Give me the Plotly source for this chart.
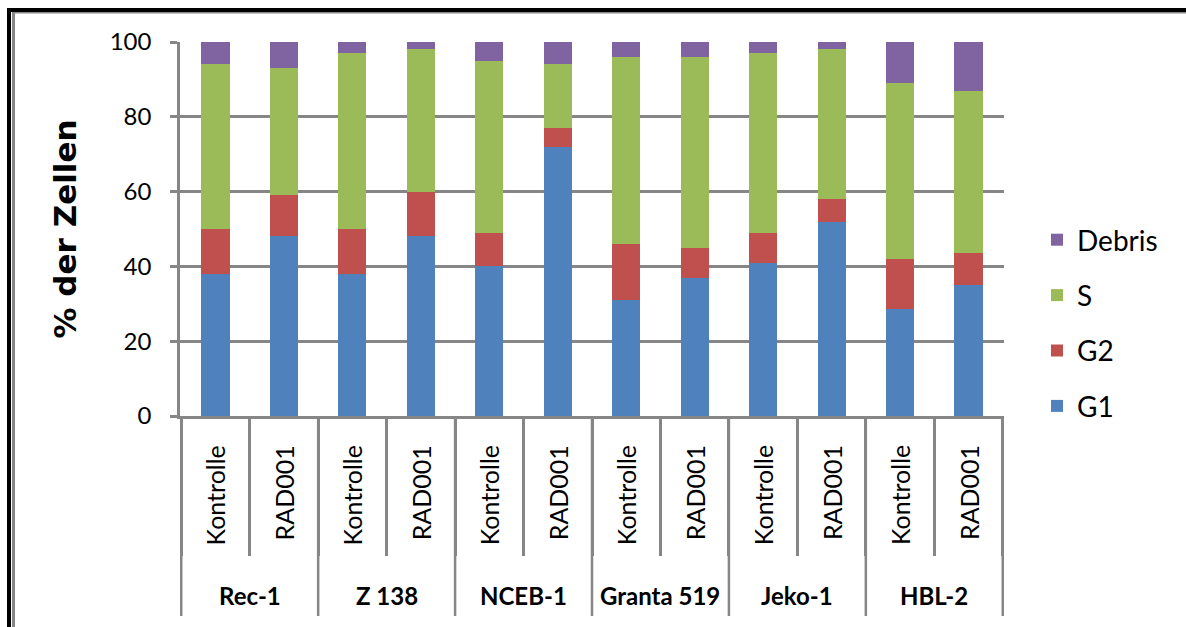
import plotly.graph_objects as go

# Cell lines and treatments (two-level category axis)
cell_lines = ["Rec-1", "Z 138", "NCEB-1", "Granta 519", "Jeko-1", "HBL-2"]
treatments = ["Kontrolle", "RAD001"]

# Cell-cycle phase distribution (% of cells) per bar, left to right
g1 = [38, 48, 38, 48, 40, 72, 31, 37, 41, 52, 28.5, 35]
g2 = [12, 11, 12, 12, 9, 5, 15, 8, 8, 6, 13.5, 8.5]
s_phase = [44, 34, 47, 38, 46, 17, 50, 51, 48, 40, 47, 43.5]
debris = [6, 7, 3, 2, 5, 6, 4, 4, 3, 2, 11, 13]

y_ticks = [0, 20, 40, 60, 80, 100]

# (name, values, colour, legend rank: top of legend first)
series = [
    ("G1", g1, "#4F81BD", 4),
    ("G2", g2, "#C0504D", 3),
    ("S", s_phase, "#9BBB59", 2),
    ("Debris", debris, "#8064A2", 1),
]

# Category keys, one per bar
pairs = [(line, t) for line in cell_lines for t in treatments]
keys = [f"{line} {t}" for line, t in pairs]

W, H = 1186, 627
L, R, T, B = 180, 1004, 42, 416
GRAY = "#868686"
FONT = "Lato"
TITLE_FONT = "DejaVu Sans"


def px_x(px):
    return (px - L) / (R - L)


def px_y(py):
    return (B - py) / (B - T)


fig = go.Figure()
for name, vals, color, rank in series:
    fig.add_trace(go.Bar(
        x=keys, y=vals, name=name, legendgroup=name, legendrank=rank,
        marker=dict(color=color, line=dict(width=0)),
    ))

annotations = []
# Treatment labels (rotated)
for k, (line, t) in zip(keys, pairs):
    annotations.append(dict(
        x=k, xref="x", y=px_y(443), yref="paper",
        text=t, textangle=-90, showarrow=False,
        xanchor="center", yanchor="top",
        font=dict(family=FONT, size=25, color="black"),
    ))
# Cell-line group labels
for gi, line in enumerate(cell_lines):
    annotations.append(dict(
        x=gi * len(treatments) + (len(treatments) - 1) / 2, xref="x",
        y=px_y(595), yref="paper",
        text=f"<b>{line}</b>", showarrow=False,
        xanchor="center", yanchor="middle",
        font=dict(family=FONT, size=24, color="black"),
    ))

shapes = []
# Group dividers below the axis
for gi in range(len(cell_lines) + 1):
    xb = gi * len(treatments) - 0.5
    shapes.append(dict(
        type="line", xref="x", yref="paper",
        x0=xb, x1=xb, y0=0, y1=px_y(616),
        line=dict(color=GRAY, width=2.5),
    ))
# Outer frame (top and left edges)
shapes += [
    dict(type="line", xref="paper", yref="paper",
         x0=px_x(7), x1=px_x(W + 2), y0=px_y(10), y1=px_y(10),
         line=dict(color="black", width=4)),
    dict(type="line", xref="paper", yref="paper",
         x0=px_x(12), x1=px_x(W + 2), y0=px_y(12.8), y1=px_y(12.8),
         line=dict(color=GRAY, width=1.5)),
    dict(type="line", xref="paper", yref="paper",
         x0=px_x(9), x1=px_x(9), y0=px_y(8), y1=px_y(H + 2),
         line=dict(color="black", width=4)),
    dict(type="line", xref="paper", yref="paper",
         x0=px_x(13.5), x1=px_x(13.5), y0=px_y(12), y1=px_y(H + 2),
         line=dict(color=GRAY, width=3)),
]

fig.update_layout(
    width=W, height=H,
    margin=dict(l=L, r=W - R, t=T, b=H - B, pad=0),
    paper_bgcolor="white", plot_bgcolor="white",
    font=dict(family=FONT, color="black"),
    barmode="stack", bargap=0.59,
    showlegend=True,
    legend=dict(
        x=px_x(1037), xanchor="left", y=px_y(215), yanchor="top",
        traceorder="grouped", tracegroupgap=16,
        font=dict(family=FONT, size=28, color="black"),
        bgcolor="rgba(0,0,0,0)",
    ),
    xaxis=dict(
        type="category", showticklabels=False, showgrid=False,
        ticks="outside", tickson="boundaries", ticklen=137,
        tickwidth=2.5, tickcolor=GRAY,
        showline=True, linecolor=GRAY, linewidth=2.5,
        zeroline=False,
    ),
    yaxis=dict(
        range=[0, 100], tickvals=y_ticks,
        showgrid=True, gridcolor=GRAY, gridwidth=2.5,
        showline=True, linecolor=GRAY, linewidth=2.5,
        ticks="outside", ticklen=7, tickwidth=2.5, tickcolor=GRAY,
        ticklabelstandoff=14, zeroline=False,
        tickfont=dict(family=FONT, size=24, color="black"),
        title=dict(text="<b>% der Zellen</b>", standoff=24,
                   font=dict(family=TITLE_FONT, size=31, color="black")),
    ),
    annotations=annotations,
    shapes=shapes,
)

fig.write_html("out.html")
